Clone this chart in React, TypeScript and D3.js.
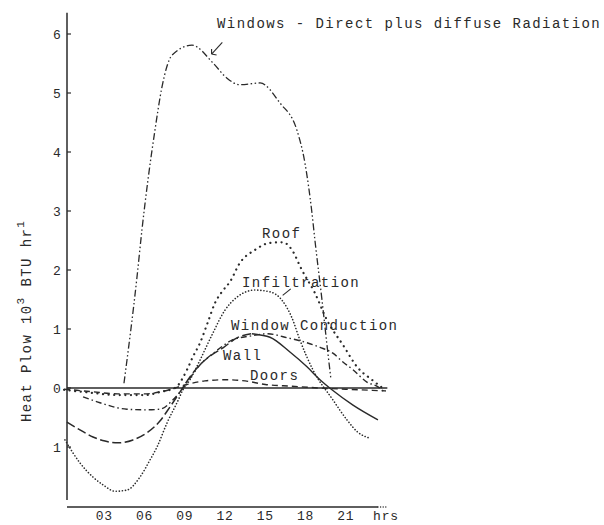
import React from 'react';
import * as d3 from 'd3';

const W = 604;
const H = 525;
const FONT = '"Liberation Mono", "DejaVu Sans Mono", monospace';
const INK = '#2a2a2a';

// axis ticks
const xTickValues = [3, 6, 9, 12, 15, 18, 21, 24];
const xTickLabels = ['03', '06', '09', '12', '15', '18', '21', 'hrs'];
const yTickValues = [-1, 0, 1, 2, 3, 4, 5, 6];
const yTickLabels = ['1', '0', '1', '2', '3', '4', '5', '6'];

// Windows - direct plus diffuse radiation
const windowsRadHours = [4.47, 5.44, 5.81, 6.26, 6.78, 7.3, 8.05, 9.54, 11.1, 12.15, 13.11, 14.61, 16.1, 17.36, 17.96, 18.48, 18.7, 19.23, 19.67, 19.9];
const windowsRadValues = [0.08, 1.88, 2.68, 3.53, 4.37, 5.1, 5.64, 5.81, 5.51, 5.25, 5.14, 5.17, 4.83, 4.37, 3.81, 2.97, 2.51, 1.49, 0.59, 0.14];

// Roof
const roofHours = [0, 2, 4, 6, 7.3, 8.27, 9.17, 9.61, 10.13, 10.73, 11.25, 11.77, 12.37, 13.11, 14.23, 15.35, 16.32, 16.99, 17.73, 18.7, 19.6, 20.79, 21.91, 22.95, 23.92];
const roofValues = [-0.03, -0.08, -0.12, -0.12, -0.06, 0.0, 0.31, 0.53, 0.76, 1.12, 1.44, 1.63, 1.8, 2.12, 2.34, 2.46, 2.47, 2.34, 2.0, 1.61, 1.15, 0.73, 0.34, 0.14, -0.03];

// Infiltration
const infHours = [0.07, 1.19, 2.16, 2.9, 3.8, 4.69, 5.66, 6.41, 6.93, 7.68, 8.42, 8.87, 9.39, 10.13, 11.03, 12.0, 12.89, 14.23, 15.35, 16.24, 16.99, 17.59, 18.55, 20.04, 21.09, 21.9, 22.8];
const infValues = [-0.88, -1.27, -1.51, -1.64, -1.75, -1.73, -1.51, -1.22, -1.0, -0.59, -0.25, -0.03, 0.14, 0.47, 0.9, 1.32, 1.54, 1.66, 1.63, 1.49, 1.19, 0.81, 0.31, -0.2, -0.54, -0.75, -0.85];

// Window conduction
const wcHours = [1.42, 2.68, 4.69, 6.04, 7.15, 8.12, 8.64, 9.39, 10.13, 11.25, 12.52, 13.86, 15.2, 16.47, 17.59, 19.08, 20.04, 20.79, 21.54, 22.58, 23.4, 23.92];
const wcValues = [-0.15, -0.25, -0.36, -0.37, -0.36, -0.2, -0.07, 0.17, 0.39, 0.61, 0.81, 0.88, 0.92, 0.86, 0.8, 0.69, 0.59, 0.44, 0.31, 0.1, 0.02, -0.08];

// Wall
const wallHours = [0.22, 1.19, 2.16, 3.06, 4.02, 5.14, 6.18, 7.15, 7.9, 8.64, 9.24, 9.91, 10.88, 11.85, 12.89, 14.0, 15.35, 16.84, 18.11, 19.08, 19.97, 21.54, 23.4];
const wallValues = [-0.58, -0.71, -0.83, -0.9, -0.93, -0.88, -0.76, -0.56, -0.32, -0.07, 0.14, 0.34, 0.54, 0.68, 0.85, 0.92, 0.86, 0.61, 0.36, 0.14, -0.03, -0.29, -0.54];

// Doors
const doorsHours = [0, 2, 4, 6, 7.5, 9, 10.5, 12, 13.5, 15, 17, 19, 21, 23, 24];
const doorsValues = [-0.02, -0.06, -0.1, -0.1, -0.05, 0.05, 0.12, 0.14, 0.12, 0.06, 0.03, 0.0, -0.02, -0.04, -0.05];

type Pt = [number, number];
const zip = (h: number[], v: number[]): Pt[] => h.map((d, i) => [d, v[i]]);

const wallPts = zip(wallHours, wallValues);
const wallPeak = d3.maxIndex(wallValues);

const series = [
  { name: 'Windows - Direct plus diffuse Radiation', pts: zip(windowsRadHours, windowsRadValues), dash: '7,2.5,1.5,2.5,1.5,2.5', width: 1.3, cap: 'butt' },
  { name: 'Roof', pts: zip(roofHours, roofValues), dash: '0.1,5.5', width: 2.2, cap: 'round' },
  { name: 'Infiltration', pts: zip(infHours, infValues), dash: '0.1,3', width: 1.6, cap: 'round' },
  { name: 'Window Conduction', pts: zip(wcHours, wcValues), dash: '6,3,1.5,3', width: 1.4, cap: 'butt' },
  { name: 'Wall (rising)', pts: wallPts.slice(0, wallPeak + 1), dash: '9,3.5', width: 1.5, cap: 'butt' },
  { name: 'Wall (falling)', pts: wallPts.slice(wallPeak), dash: 'none', width: 1.4, cap: 'butt' },
  { name: 'Doors', pts: zip(doorsHours, doorsValues), dash: '6,4', width: 1.4, cap: 'butt' },
];

const labels = [
  { text: 'Windows - Direct plus diffuse Radiation', x: 217, y: 28 },
  { text: 'Roof', x: 262, y: 238 },
  { text: 'Infiltration', x: 242, y: 287 },
  { text: 'Window Conduction', x: 231, y: 330 },
  { text: 'Wall', x: 223, y: 360 },
  { text: 'Doors', x: 250, y: 380 },
];

export default function App() {
  const x = d3.scaleLinear().domain([0, 24]).range([64, 386]);
  const y = d3.scaleLinear().domain([-1, 6]).range([447, 34]);
  const line = d3
    .line<Pt>()
    .x((d) => x(d[0]))
    .y((d) => y(d[1]))
    .curve(d3.curveMonotoneX);

  const axisX = 67;
  const baseY = 507;

  // annotation arrows anchored in data space
  const arrowTip: Pt = [x(11.0), y(5.66)];
  const arrowTail: Pt = [x(11.8), y(5.86)];
  const infTip: Pt = [x(16.3), y(1.57)];
  const infTail: Pt = [x(16.9), y(1.68)];

  return (
    <svg
      width={W}
      height={H}
      viewBox={`0 0 ${W} ${H}`}
      style={{ position: 'absolute', left: 0, top: 0, background: '#fff' }}
      fontFamily={FONT}
    >
      <rect width={W} height={H} fill="#fff" />
      {/* y axis */}
      <line x1={axisX} x2={axisX} y1={y(6.36)} y2={y(-1.9)} stroke={INK} strokeWidth={1.5} />
      {yTickValues.map((v, i) => (
        <g key={v}>
          <line x1={axisX} x2={axisX + 4} y1={y(v)} y2={y(v)} stroke={INK} strokeWidth={1.2} />
          <text x={57} y={y(v) + 5} textAnchor="middle" fontSize={13} fill={INK}>
            {yTickLabels[i]}
          </text>
        </g>
      ))}
      {/* x axis baseline */}
      <line x1={axisX} x2={x(23.4)} y1={baseY} y2={baseY} stroke={INK} strokeWidth={1.5} />
      <line x1={x(23.4)} x2={x(24)} y1={baseY} y2={baseY} stroke={INK} strokeWidth={1.3} strokeDasharray="0.1,2.5" strokeLinecap="round" />
      {xTickValues.map((t, i) => (
        <text key={t} x={x(t)} y={520} textAnchor="middle" fontSize={13} fill={INK} letterSpacing={0.8}>
          {xTickLabels[i]}
        </text>
      ))}
      {/* zero line */}
      <line x1={axisX} x2={x(24.1)} y1={y(0)} y2={y(0)} stroke={INK} strokeWidth={1.4} />

      {/* series */}
      {series.map((s) => (
        <path
          key={s.name}
          d={line(s.pts) || ''}
          fill="none"
          stroke={INK}
          strokeWidth={s.width}
          strokeDasharray={s.dash}
          strokeLinecap={s.cap as any}
        />
      ))}

      {/* annotation arrows */}
      <line x1={arrowTail[0]} y1={arrowTail[1]} x2={arrowTip[0]} y2={arrowTip[1]} stroke={INK} strokeWidth={1.1} />
      <path
        d={`M${arrowTip[0]},${arrowTip[1]} l0,-5 M${arrowTip[0]},${arrowTip[1]} l5,1`}
        stroke={INK}
        strokeWidth={1.1}
        fill="none"
      />
      <line x1={infTail[0]} y1={infTail[1]} x2={infTip[0]} y2={infTip[1]} stroke={INK} strokeWidth={1.1} />

      {/* series labels */}
      {labels.map((l) => (
        <text key={l.text} x={l.x} y={l.y} fontSize={14} fill={INK} letterSpacing={1.45} style={{ whiteSpace: 'pre' }}>
          {l.text}
        </text>
      ))}

      {/* y axis title */}
      <text transform="translate(31,422) rotate(-90)" fontSize={14} fill={INK} letterSpacing={1.4} style={{ whiteSpace: 'pre' }}>
        Heat Plow 10
        <tspan dy={-7} fontSize={11}>3</tspan>
        <tspan dy={7}> BTU hr</tspan>
        <tspan dy={-7} fontSize={11}>1</tspan>
      </text>
    </svg>
  );
}
